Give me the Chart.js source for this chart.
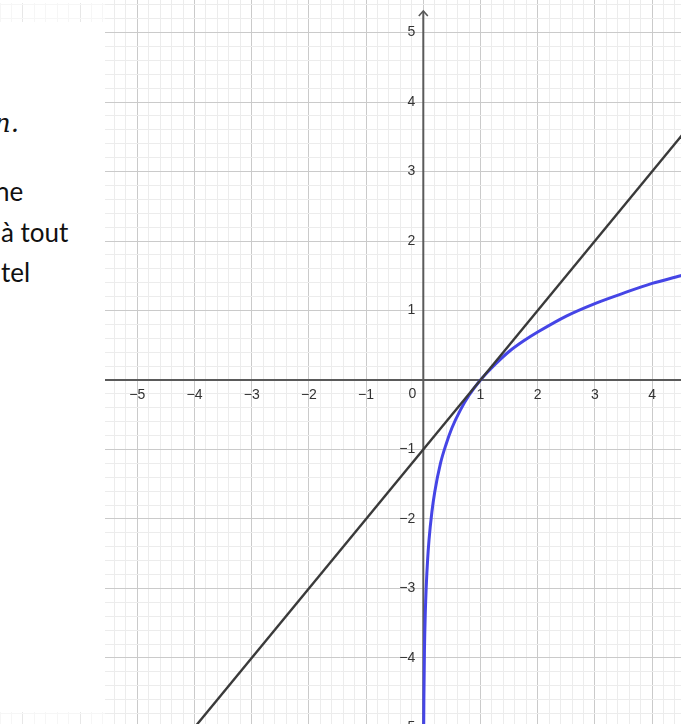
<!DOCTYPE html>
<html>
<head>
<meta charset="utf-8">
<script src="https://cdn.jsdelivr.net/npm/chart.js@4/dist/chart.umd.min.js"></script>
<style>
  html, body { margin: 0; padding: 0; background: #fff; }
  #wrap { position: relative; width: 681px; height: 724px; overflow: hidden; }
  #chartBox { position: absolute; left: 0; top: 0; width: 681px; height: 724px; }
  #cover { position: absolute; left: 0; top: 22px; width: 105px; height: 690px; background: #fff; }
  .strip { position: absolute; left: 0; width: 105px; background: rgba(255,255,255,0.55); }
  .txt { position: absolute; font-family: Lato, "Open Sans", sans-serif; font-size: 26px; color: #111; white-space: nowrap; line-height: 1; }
  .math { position: absolute; font-family: "DejaVu Serif", "Liberation Serif", serif; font-style: italic; font-size: 26px; color: #111; white-space: nowrap; line-height: 1; }
</style>
</head>
<body>
<div id="wrap">
  <div id="chartBox"><canvas id="c"></canvas></div>
  <div class="strip" style="top:0;height:3px;background:#fff"></div>
  <div class="strip" style="top:3px;height:19px"></div>
  <div class="strip" style="top:712px;height:12px"></div>
  <div id="cover">
    <div class="math" style="left:-6px;top:88px">n.</div>
    <div class="txt" style="left:-5px;top:156px">ne</div>
    <div class="txt" style="left:1px;top:197px">à tout</div>
    <div class="txt" style="left:1px;top:237px">tel</div>
  </div>
</div>
<script>
// ---- data ----
const lnX = [0.005, 0.01, 0.02, 0.035, 0.05, 0.075, 0.1, 0.15, 0.2, 0.3, 0.4, 0.5, 0.65, 0.8, 1, 1.25, 1.5, 1.75, 2, 2.5, 3, 3.5, 4, 4.5, 4.8];
const lnY = [-5.3, -4.6, -3.9, -3.35, -3.0, -2.59, -2.3, -1.9, -1.61, -1.2, -0.92, -0.69, -0.43, -0.22, 0, 0.22, 0.41, 0.56, 0.69, 0.92, 1.1, 1.25, 1.39, 1.5, 1.57];
const tangentX = [-4.5, 4.8];
const tangentY = [-5.5, 3.8];
const xTickLabels = [-5, -4, -3, -2, -1, 0, 1, 2, 3, 4];
const yTickLabels = [-5, -4, -3, -2, -1, 1, 2, 3, 4, 5];
const xRange = [-7.40, 4.505];
const yRange = [-4.95, 5.468];
const yArrowTip = 5.31;

const toPts = (xs, ys) => xs.map((x, i) => ({ x: x, y: ys[i] }));

function minorTicks(scale) {
  const t = [];
  for (let k = Math.ceil(scale.min * 5 - 1e-9); k <= Math.floor(scale.max * 5 + 1e-9); k++) t.push({ value: k / 5 });
  scale.ticks = t;
}
function gridColor(ctx) {
  const v = ctx.tick ? ctx.tick.value : 0;
  return Math.abs(v - Math.round(v)) < 1e-6 ? '#cacaca' : '#ececec';
}
const fmt = v => (v < 0 ? '\u2212' + Math.abs(v) : String(v));

const axesPlugin = {
  id: 'geoAxes',
  beforeDatasetsDraw(chart) {
    const { ctx, chartArea, scales: { x, y } } = chart;
    const x0 = x.getPixelForValue(0), y0 = y.getPixelForValue(0);
    ctx.save();
    ctx.strokeStyle = '#5a5a5a';
    ctx.lineWidth = 2;
    ctx.beginPath();
    ctx.moveTo(chartArea.left, y0); ctx.lineTo(chartArea.right, y0);
    const tip = y.getPixelForValue(yArrowTip);
    ctx.moveTo(x0, chartArea.bottom); ctx.lineTo(x0, tip);
    ctx.stroke();
    ctx.lineWidth = 1.6;
    ctx.beginPath();
    ctx.moveTo(x0 - 4.5, tip + 5); ctx.lineTo(x0, tip); ctx.lineTo(x0 + 4.5, tip + 5);
    ctx.stroke();
    // tick labels
    ctx.fillStyle = '#333333';
    ctx.font = '14px "Liberation Sans", Arial, sans-serif';
    ctx.textBaseline = 'middle';
    xTickLabels.forEach(v => {
      if (v === 0) {
        ctx.textAlign = 'right';
        ctx.fillText('0', x0 - 7, y0 + 14);
      } else {
        ctx.textAlign = 'center';
        ctx.fillText(fmt(v), x.getPixelForValue(v), y0 + 15);
      }
    });
    ctx.textAlign = 'right';
    yTickLabels.forEach(v => {
      ctx.fillText(fmt(v), x0 - 8, y.getPixelForValue(v));
    });
    ctx.restore();
  }
};

new Chart(document.getElementById('c'), {
  type: 'line',
  data: {
    datasets: [
      {
        label: 'tangent',
        data: toPts(tangentX, tangentY),
        borderColor: '#3a3a3a',
        borderWidth: 2.4,
        pointRadius: 0,
        fill: false
      },
      {
        label: 'ln',
        data: toPts(lnX, lnY),
        borderColor: '#4545e6',
        borderWidth: 3,
        pointRadius: 0,
        cubicInterpolationMode: 'monotone',
        fill: false
      }
    ]
  },
  options: {
    responsive: true,
    maintainAspectRatio: false,
    animation: false,
    layout: { padding: 0 },
    plugins: { legend: { display: false }, tooltip: { enabled: false } },
    scales: {
      x: {
        type: 'linear', min: xRange[0], max: xRange[1],
        afterBuildTicks: minorTicks,
        ticks: { display: false },
        border: { display: false },
        grid: { color: gridColor, lineWidth: 1, drawTicks: false }
      },
      y: {
        type: 'linear', min: yRange[0], max: yRange[1],
        afterBuildTicks: minorTicks,
        ticks: { display: false },
        border: { display: false },
        grid: { color: gridColor, lineWidth: 1, drawTicks: false }
      }
    }
  },
  plugins: [axesPlugin]
});
</script>
</body>
</html>
